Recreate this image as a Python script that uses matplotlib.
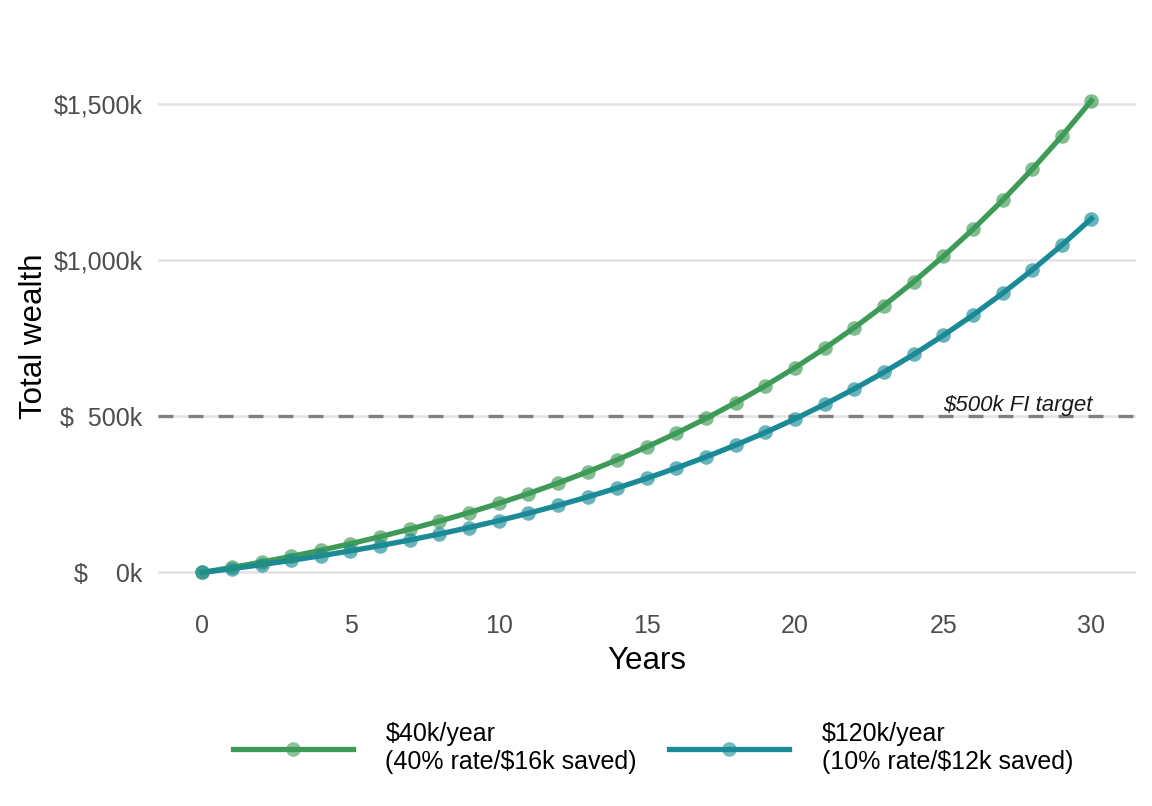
import matplotlib
matplotlib.use("Agg")
import matplotlib.pyplot as plt
from matplotlib.colors import to_rgba

years = list(range(31))
wealth_40k = [0, 16, 33.1, 51.4, 71.0, 92.0, 114.5, 138.5, 164.2, 191.6, 221.1,
              252.5, 286.2, 322.2, 360.8, 402.1, 446.2, 493.4, 544.0, 598.1, 655.9,
              717.8, 784.1, 855.0, 930.8, 1012.0, 1098.8, 1191.7, 1291.2, 1397.5, 1511.4]
wealth_120k = [0, 12, 24.8, 38.6, 53.3, 69.0, 85.8, 103.8, 123.1, 143.7, 165.8,
               189.4, 214.7, 241.7, 270.6, 301.5, 334.7, 370.1, 408.0, 448.5, 491.9,
               538.4, 588.1, 641.2, 698.1, 759.0, 824.1, 893.8, 968.4, 1048.2, 1133.5]
labels = ["$40k/year\n(40% rate/$16k saved)", "$120k/year\n(10% rate/$12k saved)"]
colors = ["#3e9a57", "#198a96"]
target = 500
y_ticks = [0, 500, 1000, 1500]
y_tick_labels = ["$    0k", "$  500k", "$1,000k", "$1,500k"]
x_ticks = [0, 5, 10, 15, 20, 25, 30]

plt.rcParams['font.family'] = ['Liberation Sans', 'DejaVu Sans']
fig = plt.figure(figsize=(11.52, 8.06), dpi=100)
ax = fig.add_axes([0.137, 0.2605, 0.849, 0.644])
ax.set_axisbelow(True)

ax.axhline(target, color="#7f7f7f", linestyle=(0, (4.5, 4.5)), linewidth=2.4, zorder=2)

series = [wealth_40k, wealth_120k]
handles = []
for vals, c, lab in zip(series, colors, labels):
    ax.plot(years, vals, color=c, linewidth=3.8, zorder=3)
    ax.plot(years, vals, linestyle='none', marker='o', markersize=10.5,
            color=c, alpha=0.65, markeredgewidth=0, zorder=4)
    h, = ax.plot([], [], color=c, linewidth=3.8, marker='o', markersize=10.5,
                 markerfacecolor=to_rgba(c, 0.6), markeredgewidth=0, label=lab)
    handles.append(h)

ax.text(27.5, 536, "$500k FI target", fontsize=16, style='italic',
        ha='center', va='center', color='#1a1a1a', zorder=5)

ax.set_xlim(-1.5, 31.5)
ax.set_ylim(-75.6, 1587)
ax.set_xticks(x_ticks)
ax.set_yticks(y_ticks)
ax.set_yticklabels(y_tick_labels)
ax.grid(axis='y', color='#e3e3e3', linewidth=1.8, zorder=0)
ax.grid(axis='x', visible=False)
for s in ax.spines.values():
    s.set_visible(False)
ax.tick_params(axis='both', length=0, labelsize=18, labelcolor='#4d4d4d')
ax.tick_params(axis='y', pad=11)
ax.tick_params(axis='x', pad=13)
ax.set_xlabel("Years", fontsize=22.5, color='black', labelpad=6)
ax.set_ylabel("Total wealth", fontsize=22.5, color='black', labelpad=3)

leg = fig.legend(handles=handles, loc='center', bbox_to_anchor=(0.567, 0.072),
                 ncol=2, frameon=False, fontsize=18, handlelength=4.8,
                 handletextpad=1.3, columnspacing=1.3)
for t in leg.get_texts():
    t.set_linespacing(1.25)

fig.savefig("out.png", dpi=100)
